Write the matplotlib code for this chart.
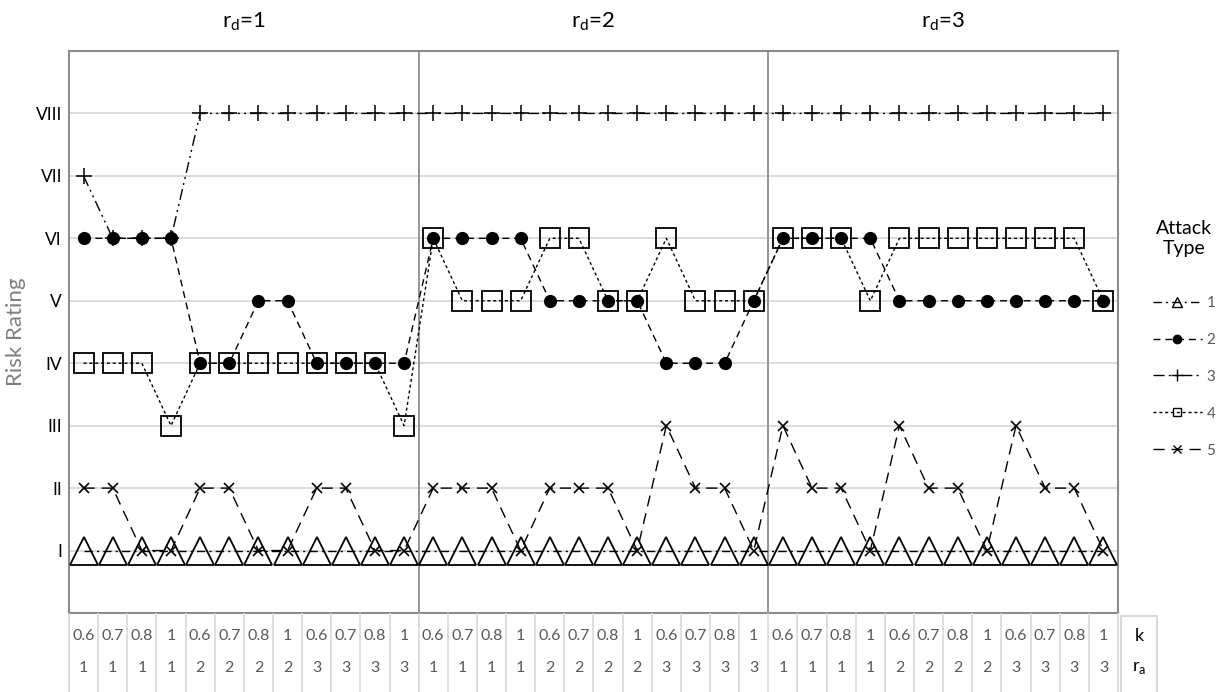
import numpy as np
import matplotlib
matplotlib.use("Agg")
import matplotlib.pyplot as plt
from matplotlib.lines import Line2D

plt.rcParams['font.family'] = ['Lato', 'DejaVu Sans']

# x axis: 36 combinations (r_d panels of 12)
k_labels = ['0.6', '0.7', '0.8', '1', '0.6', '0.7', '0.8', '1', '0.6', '0.7', '0.8', '1',
            '0.6', '0.7', '0.8', '1', '0.6', '0.7', '0.8', '1', '0.6', '0.7', '0.8', '1',
            '0.6', '0.7', '0.8', '1', '0.6', '0.7', '0.8', '1', '0.6', '0.7', '0.8', '1']
ra_labels = ['1', '1', '1', '1', '2', '2', '2', '2', '3', '3', '3', '3',
             '1', '1', '1', '1', '2', '2', '2', '2', '3', '3', '3', '3',
             '1', '1', '1', '1', '2', '2', '2', '2', '3', '3', '3', '3']
panel_titles = [r'r$_\mathregular{d}$=1', r'r$_\mathregular{d}$=2', r'r$_\mathregular{d}$=3']
risk_labels = ['I', 'II', 'III', 'IV', 'V', 'VI', 'VII', 'VIII']

# risk rating per attack type (1 = I ... 8 = VIII)
attack_1 = [1, 1, 1, 1, 1, 1, 1, 1, 1, 1, 1, 1,
            1, 1, 1, 1, 1, 1, 1, 1, 1, 1, 1, 1,
            1, 1, 1, 1, 1, 1, 1, 1, 1, 1, 1, 1]
attack_2 = [6, 6, 6, 6, 4, 4, 5, 5, 4, 4, 4, 4,
            6, 6, 6, 6, 5, 5, 5, 5, 4, 4, 4, 5,
            6, 6, 6, 6, 5, 5, 5, 5, 5, 5, 5, 5]
attack_3 = [7, 6, 6, 6, 8, 8, 8, 8, 8, 8, 8, 8,
            8, 8, 8, 8, 8, 8, 8, 8, 8, 8, 8, 8,
            8, 8, 8, 8, 8, 8, 8, 8, 8, 8, 8, 8]
attack_4 = [4, 4, 4, 3, 4, 4, 4, 4, 4, 4, 4, 3,
            6, 5, 5, 5, 6, 6, 5, 5, 6, 5, 5, 5,
            6, 6, 6, 5, 6, 6, 6, 6, 6, 6, 6, 5]
attack_5 = [2, 2, 1, 1, 2, 2, 1, 1, 2, 2, 1, 1,
            2, 2, 2, 1, 2, 2, 2, 1, 3, 2, 2, 1,
            3, 2, 2, 1, 3, 2, 2, 1, 3, 2, 2, 1]

styles = {
    '1': dict(marker='^', ms=20, ls=(0, (6, 3, 1.5, 3)), mfc='none', mew=1.3),
    '2': dict(marker='o', ms=9.5, ls=(0, (5, 3.5)), mfc='black', mew=0),
    '3': dict(marker='+', ms=11, ls=(0, (8, 3, 1.5, 3, 1.5, 3)), mew=1.1),
    '4': dict(marker='s', ms=14, ls=(0, (2.2, 2)), mfc='none', mew=1.3),
    '5': dict(marker='x', ms=6.5, ls=(0, (8, 5)), mew=1.2),
}
series = {'1': attack_1, '3': attack_3, '4': attack_4, '2': attack_2, '5': attack_5}

fig = plt.figure(figsize=(12.25, 6.92), dpi=100)
ax = fig.add_axes([69 / 1225, 1 - 613 / 692, 1049 / 1225, 562 / 692])
x = np.arange(len(k_labels))

for name, vals in series.items():
    ax.plot(x, vals, color='black', lw=1.0, **styles[name], zorder=3, clip_on=False)

ax.set_xlim(-0.5, len(x) - 0.5)
ax.set_ylim(0, 9)
ax.set_yticks(range(1, 9))
ax.set_yticklabels(risk_labels, fontsize=12.5)
ax.tick_params(axis='y', length=0, pad=5)
ax.set_xticks([])
ax.grid(axis='y', color='#d9d9d9', lw=1.3)
ax.set_axisbelow(True)
for sp in ax.spines.values():
    sp.set_color('#8c8c8c')
    sp.set_linewidth(1.5)
for b in [11.5, 23.5]:
    ax.axvline(b, color='#8c8c8c', lw=1.3, zorder=1)
for i, t in enumerate(panel_titles):
    ax.text(5.5 + 12 * i, 1.053, t, transform=ax.get_xaxis_transform(),
            ha='center', va='center', fontsize=16)
ax.set_ylabel('Risk Rating', fontsize=16, color='#7f7f7f')
ax.yaxis.set_label_coords(-43 / 1049, 0.5)

# table of k / r_a underneath
tab = fig.add_axes([69 / 1225, 0, 1049 / 1225, 78 / 692])
tab.set_xlim(ax.get_xlim())
tab.set_ylim(0, 1)
tab.axis('off')
for i in range(len(x)):
    tab.text(x[i], 0.72, k_labels[i], ha='center', va='center', fontsize=11.5, color='#595959')
    tab.text(x[i], 0.31, ra_labels[i], ha='center', va='center', fontsize=11.5, color='#595959')
for b in np.arange(-0.5, len(x), 1.0):
    tab.plot([b, b], [0, 1], color='#d9d9d9', lw=1.2, clip_on=False)
lab_l, lab_r = len(x) - 0.4, len(x) + 0.83
tab.plot([lab_l, lab_l, lab_r, lab_r], [0, 0.98, 0.98, 0], color='#d9d9d9', lw=1.5, clip_on=False)
tab.text((lab_l + lab_r) / 2, 0.72, 'k', ha='center', va='center', fontsize=13, clip_on=False)
tab.text((lab_l + lab_r) / 2, 0.31, r'r$_\mathregular{a}$', ha='center', va='center',
         fontsize=13, clip_on=False)

# legend with small markers
handles = []
for name in ['1', '2', '3', '4', '5']:
    st = dict(styles[name])
    st['ms'] = {'1': 7, '2': 6, '3': 9, '4': 6, '5': 6}[name]
    st['mew'] = 1.0
    handles.append(Line2D([], [], color='black', lw=1.0, **st))
leg = fig.legend(handles, ['1', '2', '3', '4', '5'], title='Attack\nType',
                 loc='center', bbox_to_anchor=(1184 / 1225, 1 - 339 / 692),
                 frameon=False, fontsize=11, title_fontsize=14, handlelength=3.2,
                 handletextpad=0.3, labelspacing=1.5)
leg._legend_box.align = 'center'
leg.get_title().set_multialignment('center')
leg._legend_box.sep = 28
for t in leg.get_texts():
    t.set_color('#595959')

fig.savefig('out.png', dpi=100)
